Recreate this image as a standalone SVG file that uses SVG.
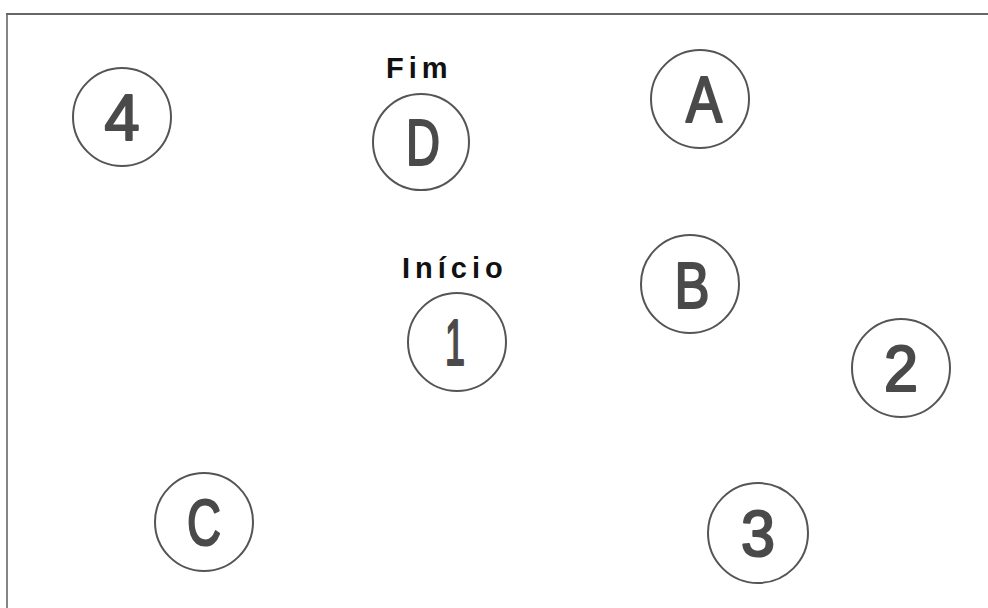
<svg xmlns="http://www.w3.org/2000/svg" width="988" height="608" viewBox="0 0 988 608">
<style>
.c{fill:none;stroke:#555;stroke-width:2}
.t{font-family:"Liberation Sans",Arial,sans-serif;font-size:64px;fill:#4a4a4a;stroke:#4a4a4a;stroke-width:2.2;stroke-linejoin:round;stroke-linecap:round;text-anchor:middle}
.l{font-family:"Liberation Sans",Arial,sans-serif;font-size:29px;font-weight:bold;fill:#111;letter-spacing:5px}
.b{stroke:#666;fill:none}
</style>
<rect width="988" height="608" fill="#fff"/>
<g id="frame">
<line class="b" x1="6" y1="14" x2="988" y2="14" stroke-width="2"/>
<line class="b" x1="7" y1="14" x2="7" y2="608" stroke-width="1.6"/>
</g>
<g id="connectors"></g>
<g id="n4"><circle class="c" cx="122" cy="117" r="49"/><text class="t" x="122" y="140" textLength="35" lengthAdjust="spacingAndGlyphs">4</text></g>
<g id="nD"><circle class="c" cx="421" cy="142" r="48"/><text class="t" x="423" y="165" textLength="34" lengthAdjust="spacingAndGlyphs">D</text></g>
<g id="nA"><circle class="c" cx="700" cy="99" r="49"/><text class="t" x="704" y="122" textLength="36" lengthAdjust="spacingAndGlyphs">A</text></g>
<g id="nB"><circle class="c" cx="690" cy="284" r="49"/><text class="t" x="692" y="308" textLength="35" lengthAdjust="spacingAndGlyphs">B</text></g>
<g id="n1"><circle class="c" cx="457" cy="342" r="49"/><text class="t" x="455" y="365" textLength="20" lengthAdjust="spacingAndGlyphs">1</text></g>
<g id="n2"><circle class="c" cx="901" cy="368" r="49"/><text class="t" x="901" y="391" textLength="34" lengthAdjust="spacingAndGlyphs">2</text></g>
<g id="nC"><circle class="c" cx="204" cy="522" r="49"/><text class="t" x="204" y="545" textLength="34" lengthAdjust="spacingAndGlyphs">C</text></g>
<g id="n3"><circle class="c" cx="758" cy="533" r="50"/><text class="t" x="758" y="556" textLength="34" lengthAdjust="spacingAndGlyphs">3</text></g>
<g id="labels">
<text class="l" x="386" y="78">Fim</text>
<text class="l" x="402" y="278">Início</text>
</g>
</svg>
